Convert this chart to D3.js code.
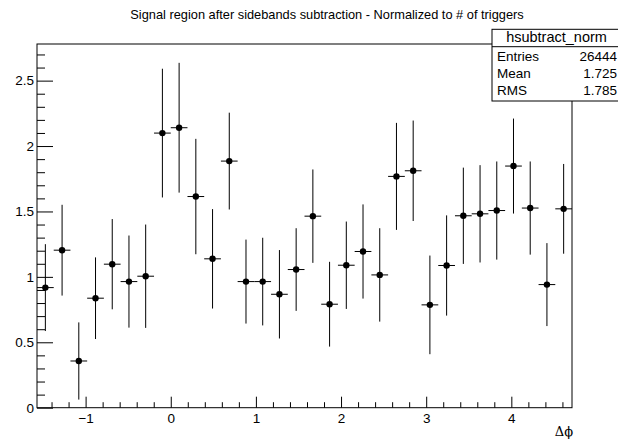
<!DOCTYPE html>
<html>
<head>
<meta charset="utf-8">
<script src="https://cdn.jsdelivr.net/npm/d3@7/dist/d3.min.js"></script>
<style>
  html, body { margin: 0; padding: 0; background: #fff; }
  svg { display: block; font-family: "Liberation Sans", Arial, Helvetica, sans-serif; }
</style>
</head>
<body>
<svg id="chart" width="618" height="442"></svg>
<script>
// ---- data ----
const title = "Signal region after sidebands subtraction - Normalized to # of triggers";
const xLabel = "\u0394\u03d5";
const nBins = 32;
const xMin = -Math.PI / 2, xMax = 3 * Math.PI / 2;
const values = [0.918, 1.204, 0.357, 0.837, 1.097, 0.964, 1.005, 2.099,
                2.140, 1.614, 1.138, 1.885, 0.964, 0.964, 0.867, 1.056,
                1.464, 0.791, 1.089, 1.194, 1.015, 1.768, 1.811, 0.786,
                1.087, 1.467, 1.482, 1.507, 1.847, 1.526, 0.941, 1.520];
const errors = [0.332, 0.347, 0.295, 0.312, 0.345, 0.352, 0.395, 0.492,
                0.496, 0.441, 0.380, 0.370, 0.321, 0.335, 0.338, 0.316,
                0.357, 0.324, 0.334, 0.360, 0.357, 0.409, 0.384, 0.377,
                0.383, 0.368, 0.372, 0.375, 0.363, 0.356, 0.317, 0.343];
const xMajorTicks = [-1, 0, 1, 2, 3, 4];
const yMajorTicks = [0, 0.5, 1, 1.5, 2, 2.5];
const yMax = 2.78;
const statsName = "hsubtract_norm";
const statsLabels = ["Entries", "Mean", "RMS"];
const statsValues = ["26444", "1.725", "1.785"];

// ---- layout ----
const svg = d3.select("#chart");
const L = 37, R = 572, T = 44, B = 407.7;
const x = d3.scaleLinear().domain([xMin, xMax]).range([L, R]);
const y = d3.scaleLinear().domain([0, yMax]).range([B, T]);
const binW = (xMax - xMin) / nBins;
const bins = values.map((v, i) => ({ c: xMin + (i + 0.5) * binW, v, e: errors[i] }));

// minor ticks
const xMinor = d3.range(-1.4, 4.7, 0.2).map(d => +d.toFixed(2)).filter(d => Math.abs(d - Math.round(d)) > 1e-6);
const yMinor = d3.range(0.1, 2.75, 0.1).map(d => +d.toFixed(2)).filter(d => Math.abs(d * 2 - Math.round(d * 2)) > 1e-6);

// frame
svg.append("rect").attr("x", L).attr("y", T).attr("width", R - L).attr("height", B - T)
  .attr("fill", "none").attr("stroke", "#000").attr("stroke-width", 1);

// axes
const fmt = d => (d < 0 ? "\u2212" + Math.abs(d) : String(d));
const gx = svg.append("g").attr("transform", `translate(0,${B})`);
gx.call(d3.axisBottom(x).tickValues(xMinor).tickSizeInner(-5.5).tickSizeOuter(0).tickFormat(""));
gx.call(g => g.select(".domain").remove());
const gx2 = svg.append("g").attr("transform", `translate(0,${B})`);
gx2.call(d3.axisBottom(x).tickValues(xMajorTicks).tickSizeInner(-11).tickSizeOuter(0).tickPadding(6).tickFormat(fmt));
gx2.call(g => g.select(".domain").remove());

const gy = svg.append("g").attr("transform", `translate(${L},0)`);
gy.call(d3.axisLeft(y).tickValues(yMinor).tickSizeInner(-8).tickSizeOuter(0).tickFormat(""));
gy.call(g => g.select(".domain").remove());
const gy2 = svg.append("g").attr("transform", `translate(${L},0)`);
gy2.call(d3.axisLeft(y).tickValues(yMajorTicks).tickSizeInner(-16).tickSizeOuter(0).tickPadding(3).tickFormat(d => String(d)));
gy2.call(g => g.select(".domain").remove());

svg.selectAll(".tick line").attr("stroke", "#000");
svg.selectAll(".tick text").attr("fill", "#000").style("font-size", "13.5px")
  .style("font-family", '"Liberation Sans", Arial, Helvetica, sans-serif');

// error bars + markers
const g = svg.append("g");
g.selectAll(".eh").data(bins).join("line")
  .attr("x1", d => x(d.c - binW / 2)).attr("x2", d => x(d.c + binW / 2))
  .attr("y1", d => y(d.v)).attr("y2", d => y(d.v))
  .attr("stroke", "#000").attr("stroke-width", 1);
g.selectAll(".ev").data(bins).join("line")
  .attr("x1", d => x(d.c)).attr("x2", d => x(d.c))
  .attr("y1", d => y(Math.max(0, d.v - d.e))).attr("y2", d => y(d.v + d.e))
  .attr("stroke", "#000").attr("stroke-width", 1);
g.selectAll("circle").data(bins).join("circle")
  .attr("cx", d => x(d.c)).attr("cy", d => y(d.v)).attr("r", 3.2).attr("fill", "#000");

// title
svg.append("text").attr("x", 327).attr("y", 18.5).attr("text-anchor", "middle")
  .style("font-size", "12.8px").text(title);

// x axis label
svg.append("text").attr("x", R + 1).attr("y", 436).attr("text-anchor", "end")
  .style("font-size", "13px").style("font-family", '"DejaVu Serif", "Liberation Serif", serif').text(xLabel);

// stats box
const sb = { x: 492, y: 29.3, w: 130, h: 71.7, hdr: 46.7 };
svg.append("rect").attr("x", sb.x).attr("y", sb.y).attr("width", sb.w).attr("height", sb.h)
  .attr("fill", "#fff").attr("stroke", "#000").attr("stroke-width", 1);
svg.append("line").attr("x1", sb.x).attr("x2", sb.x + sb.w).attr("y1", sb.hdr).attr("y2", sb.hdr)
  .attr("stroke", "#000").attr("stroke-width", 1);
svg.append("text").attr("x", 556.5).attr("y", 42).attr("text-anchor", "middle")
  .style("font-size", "14.5px").text(statsName);
statsLabels.forEach((lab, i) => {
  const by = 61 + i * 17;
  svg.append("text").attr("x", 497).attr("y", by).style("font-size", "13.5px").text(lab);
  svg.append("text").attr("x", 617).attr("y", by).attr("text-anchor", "end").style("font-size", "13.5px").text(statsValues[i]);
});
</script>
</body>
</html>
